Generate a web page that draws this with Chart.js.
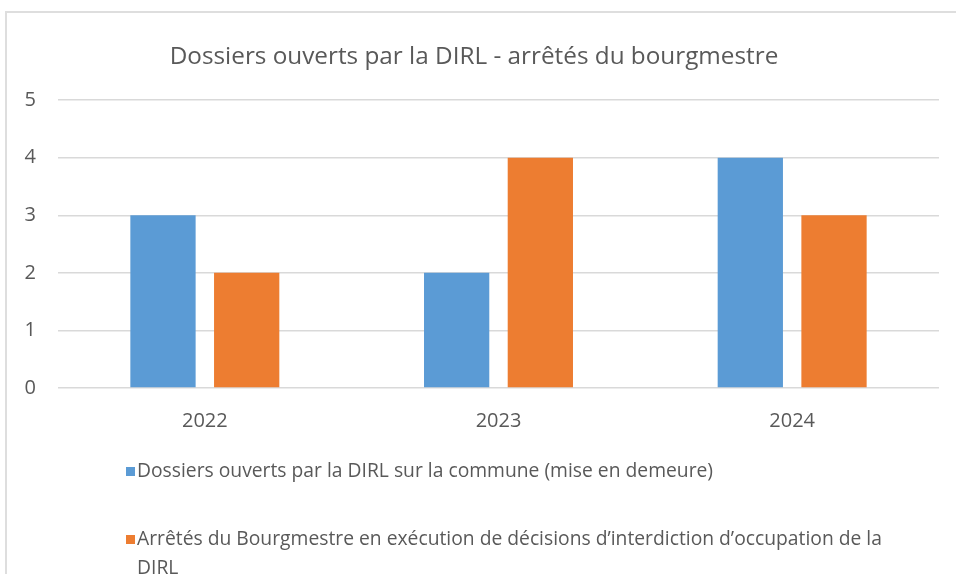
<!DOCTYPE html>
<html>
<head>
<meta charset="utf-8">
<script src="https://cdn.jsdelivr.net/npm/chart.js@4.4.1/dist/chart.umd.min.js"></script>
<style>
  html, body { margin: 0; padding: 0; background: #fff; overflow: hidden; }
  #wrap { position: relative; width: 956px; height: 574px; }
  #frame { position: absolute; left: 5px; top: 11px; width: 1000px; height: 1000px;
           border: 2px solid #dedede; box-sizing: border-box; pointer-events: none; }
</style>
</head>
<body>
<div id="wrap">
  <canvas id="myChart" width="956" height="574"></canvas>
  <div id="frame"></div>
</div>
<script>
// values
const years = ['2022', '2023', '2024'];
const dossiers = [3, 2, 4];
const arretes = [2, 4, 3];
const seriesNames = [
    'Dossiers ouverts par la DIRL sur la commune (mise en demeure)',
    'Arrêtés du Bourgmestre en exécution de décisions d’interdiction d’occupation de la DIRL'
];
const chartTitle = 'Dossiers ouverts par la DIRL - arrêtés du bourgmestre';

const textColor = '#595959';
const gridColor = '#d9d9d9';
const fontFamily = "'Open Sans', 'Noto Sans', sans-serif";

// legend drawn under the chart, one item per row, long text wrapped
const legendBelow = {
    id: 'legendBelow',
    afterDraw(chart) {
        const ctx = chart.ctx;
        const x0 = 126;
        const rowsY = [472, 540];
        const lineH = 29;
        const maxW = 790;
        ctx.save();
        ctx.font = '19.3px ' + fontFamily;
        ctx.textBaseline = 'middle';
        ctx.textAlign = 'left';
        chart.data.datasets.forEach((ds, i) => {
            const y = rowsY[i];
            ctx.fillStyle = ds.backgroundColor;
            ctx.fillRect(x0, y - 5, 9, 9);
            // wrap words
            const words = ds.label.split(' ');
            let line = '';
            let yy = y;
            ctx.fillStyle = textColor;
            words.forEach(w => {
                const test = line ? line + ' ' + w : w;
                if (ctx.measureText(test).width > maxW && line) {
                    ctx.fillText(line, x0 + 11, yy);
                    line = w;
                    yy += lineH;
                } else {
                    line = test;
                }
            });
            ctx.fillText(line, x0 + 11, yy);
        });
        ctx.restore();
    }
};

const ctx = document.getElementById('myChart').getContext('2d');
const myChart = new Chart(ctx, {
    type: 'bar',
    data: {
        labels: years,
        datasets: [{
            label: seriesNames[0],
            data: dossiers,
            backgroundColor: '#5B9BD5',
            categoryPercentage: 0.57,
            barPercentage: 0.78
        }, {
            label: seriesNames[1],
            data: arretes,
            backgroundColor: '#ED7D31',
            categoryPercentage: 0.57,
            barPercentage: 0.78
        }]
    },
    options: {
        responsive: false,
        animation: false,
        layout: {
            padding: { left: 9, right: 17, top: 0, bottom: 128 }
        },
        plugins: {
            legend: { display: false },
            tooltip: { enabled: false },
            title: {
                display: true,
                text: chartTitle,
                color: textColor,
                font: { family: fontFamily, size: 24.3, weight: 'normal' },
                padding: { top: 42, bottom: 29 }
            }
        },
        scales: {
            x: {
                grid: { display: false },
                border: { display: false },
                ticks: {
                    color: textColor,
                    font: { family: fontFamily, size: 20 },
                    padding: 13
                }
            },
            y: {
                min: 0,
                max: 5,
                ticks: {
                    stepSize: 1,
                    color: textColor,
                    font: { family: fontFamily, size: 20 },
                    padding: 22
                },
                grid: { color: gridColor, lineWidth: 1.5, drawTicks: false },
                border: { display: false },
                afterFit(scale) { scale.width = 49; }
            }
        }
    },
    plugins: [legendBelow]
});
</script>
</body>
</html>
